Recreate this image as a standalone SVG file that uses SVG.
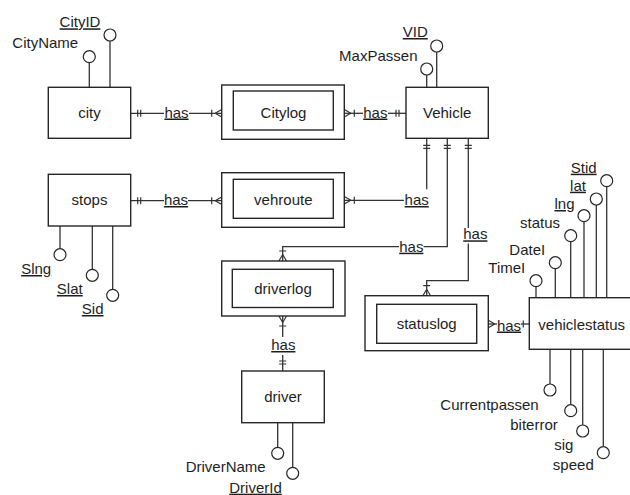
<svg xmlns="http://www.w3.org/2000/svg" width="630" height="495" viewBox="0 0 630 495">
<style>
  .box { fill: #fff; stroke: #262626; stroke-width: 1.4; }
  .ln { fill: none; stroke: #333; stroke-width: 1.3; }
  .mk { fill: none; stroke: #333; stroke-width: 1.2; }
  .at { fill: #fff; stroke: #262626; stroke-width: 1.2; }
  text { font-family: "Liberation Sans", Arial, sans-serif; font-size: 15px; fill: #1e1e1e; text-anchor: middle; }
  .u { text-decoration: underline; }
</style>
<defs>
  <marker id="oo" viewBox="-14 -6 16 12" refX="0" refY="0" markerWidth="16" markerHeight="12" markerUnits="userSpaceOnUse" orient="auto" overflow="visible">
    <path class="mk" d="M-7,-3.5 V3.5 M-10,-3.5 V3.5"/>
  </marker>
  <marker id="mm" viewBox="-14 -6 16 12" refX="0" refY="0" markerWidth="16" markerHeight="12" markerUnits="userSpaceOnUse" orient="auto" overflow="visible">
    <path class="mk" d="M-6.5,0 L0,-3.8 M-6.5,0 L0,3.8 M-10,-3.5 V3.5"/>
  </marker>
  <marker id="cf" viewBox="-14 -6 16 12" refX="0" refY="0" markerWidth="16" markerHeight="12" markerUnits="userSpaceOnUse" orient="auto" overflow="visible">
    <path class="mk" d="M-6.5,0 L0,-3.8 M-6.5,0 L0,3.8"/>
  </marker>
  <marker id="o1" viewBox="-14 -6 16 12" refX="0" refY="0" markerWidth="16" markerHeight="12" markerUnits="userSpaceOnUse" orient="auto" overflow="visible">
    <path class="mk" d="M-6,-3.5 V3.5"/>
  </marker>
</defs>

<g id="connectors">
  <path class="ln" d="M164,113.3 H130.7" marker-end="url(#oo)"/>
  <path class="ln" d="M189,113.3 H221.7" marker-end="url(#mm)"/>
  <path class="ln" d="M363,113.3 H344.3" marker-end="url(#mm)"/>
  <path class="ln" d="M388,113.3 H406" marker-end="url(#oo)"/>
  <path class="ln" d="M164,200.7 H130.7" marker-end="url(#oo)"/>
  <path class="ln" d="M188,200.7 H221.7" marker-end="url(#mm)"/>
  <path class="ln" d="M404,200.3 H344.3" marker-end="url(#mm)"/>
  <path class="ln" d="M426.7,189.3 V138.3" marker-end="url(#oo)"/>
  <path class="ln" d="M423.5,246.7 H447.3 V138.3" marker-end="url(#oo)"/>
  <path class="ln" d="M399,246.7 H282.7 V261" marker-end="url(#mm)"/>
  <path class="ln" d="M468.3,228 V138.3" marker-end="url(#oo)"/>
  <path class="ln" d="M468.3,243.5 V280.7 H426.7 V295.7" marker-end="url(#mm)"/>
  <path class="ln" d="M497,324 H488.3" marker-end="url(#cf)"/>
  <path class="ln" d="M521,324 H529.3" marker-end="url(#o1)"/>
  <path class="ln" d="M282.7,337 V316" marker-end="url(#mm)"/>
  <path class="ln" d="M282.7,355 V371" marker-end="url(#oo)"/>
  <text class="u" x="176.5" y="117.5">has</text>
  <text class="u" x="375.3" y="117.5">has</text>
  <text class="u" x="176" y="205">has</text>
  <text class="u" x="416.7" y="205">has</text>
  <text class="u" x="411.3" y="251.7">has</text>
  <text class="u" x="475.3" y="239.3">has</text>
  <text class="u" x="509" y="330.5">has</text>
  <text class="u" x="283.3" y="350">has</text>
</g>

<g id="city">
  <path class="ln" d="M89.3,62.7 V87.3 M110,41 V87.3"/>
  <circle class="at" cx="89.3" cy="56.7" r="6"/>
  <circle class="at" cx="110" cy="35" r="6"/>
  <text x="45.3" y="48.3">CityName</text>
  <text class="u" x="80" y="27.3">CityID</text>
  <rect class="box" x="48.3" y="87.3" width="82.4" height="51"/>
  <text x="89.5" y="117.7">city</text>
</g>

<g id="citylog">
  <rect class="box" x="221.7" y="85" width="122.6" height="54.3"/>
  <rect class="box" x="233.3" y="91" width="100" height="39"/>
  <text x="283.5" y="117.5">Citylog</text>
</g>

<g id="vehicle">
  <path class="ln" d="M426.7,75 V87.3 M436.7,52 V87.3"/>
  <circle class="at" cx="426.7" cy="69" r="6"/>
  <circle class="at" cx="436.7" cy="46" r="6"/>
  <text x="378.3" y="61">MaxPassen</text>
  <text class="u" x="415.3" y="37">VID</text>
  <rect class="box" x="406" y="87.3" width="82.3" height="51"/>
  <text x="447.2" y="117.5">Vehicle</text>
</g>

<g id="stops">
  <path class="ln" d="M60,226 V248.7 M92.3,226 V269.3 M112.7,226 V289.3"/>
  <circle class="at" cx="60" cy="254.7" r="6"/>
  <circle class="at" cx="92.3" cy="275.3" r="6"/>
  <circle class="at" cx="112.7" cy="295.3" r="6"/>
  <text class="u" x="36.2" y="274">Slng</text>
  <text class="u" x="69.8" y="294">Slat</text>
  <text class="u" x="92.7" y="314">Sid</text>
  <rect class="box" x="48.3" y="174.3" width="82.4" height="51.7"/>
  <text x="89.5" y="205">stops</text>
</g>

<g id="vehroute">
  <rect class="box" x="221.7" y="172.7" width="122.6" height="54.6"/>
  <rect class="box" x="233.3" y="179.3" width="100" height="39"/>
  <text x="283.3" y="205">vehroute</text>
</g>

<g id="driverlog">
  <rect class="box" x="221.7" y="261" width="123.3" height="55"/>
  <rect class="box" x="232.3" y="269.3" width="101" height="38.2"/>
  <text x="283" y="293.5">driverlog</text>
</g>

<g id="statuslog">
  <rect class="box" x="365" y="295.7" width="123.3" height="55"/>
  <rect class="box" x="376.7" y="304.3" width="100" height="39"/>
  <text x="426.7" y="329">statuslog</text>
</g>

<g id="vehiclestatus">
  <path class="ln" d="M536,286.7 V297.7 M555.3,268.7 V297.7 M570.7,241.7 V297.7 M584,221.7 V297.7 M596.3,205 V297.7 M606.7,186.7 V297.7"/>
  <path class="ln" d="M550,349.3 V384 M570.7,349.3 V404.7 M582.7,349.3 V425 M603.3,349.3 V446.7"/>
  <circle class="at" cx="536" cy="280.7" r="6"/>
  <circle class="at" cx="555.3" cy="262.7" r="6"/>
  <circle class="at" cx="570.7" cy="235.7" r="6"/>
  <circle class="at" cx="584" cy="215.7" r="6"/>
  <circle class="at" cx="596.3" cy="199" r="6"/>
  <circle class="at" cx="606.7" cy="180.7" r="6"/>
  <circle class="at" cx="550" cy="390" r="6"/>
  <circle class="at" cx="570.7" cy="410.7" r="6"/>
  <circle class="at" cx="582.7" cy="431" r="6"/>
  <circle class="at" cx="603.3" cy="452.7" r="6"/>
  <text class="u" x="583.7" y="172.7">Stid</text>
  <text class="u" x="578" y="190.7">lat</text>
  <text class="u" x="564.5" y="209">lng</text>
  <text x="540" y="228.3">status</text>
  <text x="527.3" y="255">DateI</text>
  <text x="506.8" y="272.7">TimeI</text>
  <text x="489.5" y="410">Currentpassen</text>
  <text x="534" y="430">biterror</text>
  <text x="563.8" y="450">sig</text>
  <text x="573.3" y="470">speed</text>
  <rect class="box" x="529.3" y="297.7" width="103" height="51.6"/>
  <text x="581.7" y="330">vehiclestatus</text>
</g>

<g id="driver">
  <path class="ln" d="M277.7,422.7 V447.3 M292.7,422.7 V467.3"/>
  <circle class="at" cx="277.7" cy="453.3" r="6"/>
  <circle class="at" cx="292.7" cy="473.3" r="6"/>
  <text x="225.7" y="471.7">DriverName</text>
  <text class="u" x="255.5" y="492.7">DriverId</text>
  <rect class="box" x="241.7" y="371" width="82.6" height="51.7"/>
  <text x="283" y="401.8">driver</text>
</g>
</svg>
